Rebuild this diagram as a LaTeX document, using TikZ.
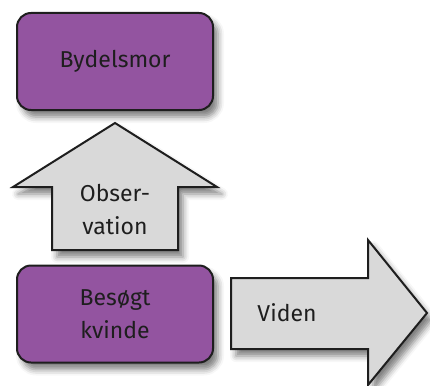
\documentclass[tikz,border=0pt]{standalone}
\usepackage{fontspec}
\setmainfont[Ligatures=NoCommon]{Fira Sans}
\usetikzlibrary{shadows.blur}
\definecolor{boxpurple}{HTML}{9354A0}
\definecolor{arrowgray}{HTML}{D9D9D9}
\definecolor{edgegray}{HTML}{1E1E1E}
\tikzset{
softshadow/.style={blur shadow={shadow xshift=5pt,shadow yshift=-7pt,shadow blur radius=6pt,shadow opacity=50}},
rolebox/.style={rectangle,draw=edgegray,line width=2pt,fill=boxpurple,rounded corners=14pt,minimum width=196pt,minimum height=97pt,align=center,text=edgegray,font=\fontsize{23}{33}\selectfont,softshadow},
blockarrow/.style={draw=edgegray,line width=2pt,fill=arrowgray,line join=miter,softshadow},
arrowtext/.style={align=center,text=edgegray,font=\fontsize{23}{33}\selectfont}
}
\begin{document}
\begin{tikzpicture}[x=1pt,y=-1pt]
\useasboundingbox (0,0) rectangle (430,385);
\draw[blockarrow] (52,250) -- (52,187) -- (13,187) -- (115,123) -- (217,187) -- (178,187) -- (178,250) -- cycle;
\draw[blockarrow] (231,278) -- (368,278) -- (368,240) -- (427,313) -- (368,385) -- (368,349) -- (231,349) -- cycle;
\node[rolebox] (mor) at (115,61.5) {Bydelsmor};
\node[rolebox] (kvinde) at (115,314) {Besøgt\\kvinde};
\node[arrowtext] (obs) at (115,210) {Obser-\\vation};
\node[arrowtext] (viden) at (287,313) {Viden};
\end{tikzpicture}
\end{document}
